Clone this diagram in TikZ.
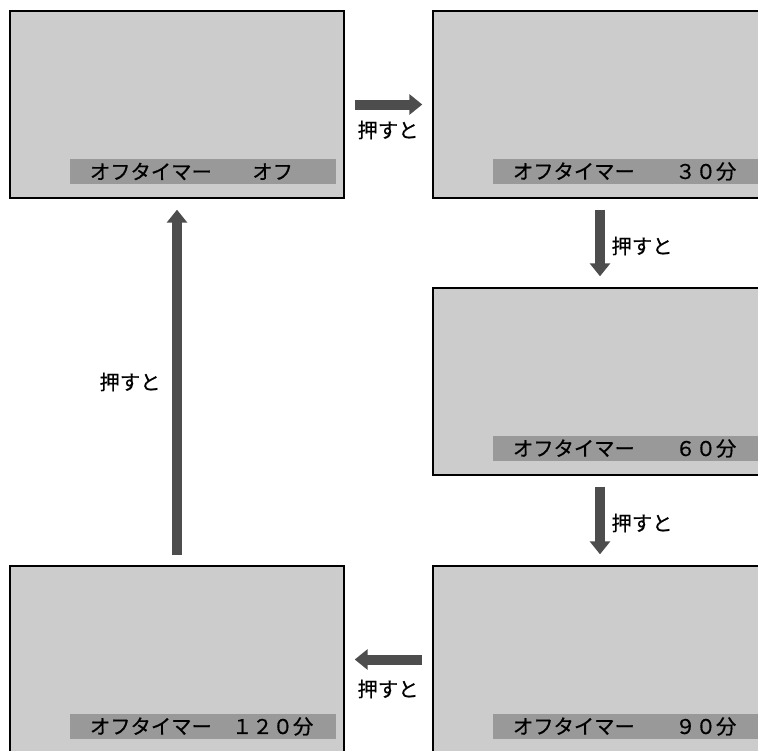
\documentclass[tikz,border=0pt]{standalone}
\usepackage{fontspec}
\setmainfont{Noto Sans CJK JP}
\newfontfamily\jpfont{Noto Sans CJK JP}[FakeBold=0.6]
\usetikzlibrary{arrows.meta}
\definecolor{scrfill}{HTML}{CCCCCC}
\definecolor{barfill}{HTML}{999999}
\definecolor{arrowgray}{HTML}{4D4D4D}
\begin{document}
\begin{tikzpicture}[x=1pt,y=-1pt,
  screen/.style={draw=black,line width=1.4pt,fill=scrfill,minimum width=334pt,minimum height=187pt,inner sep=0pt},
  bar/.style={fill=barfill,minimum width=266pt,minimum height=25pt,inner sep=0pt},
  bartext/.style={anchor=west,inner sep=0pt,font=\jpfont\fontsize{20.3}{24}\selectfont},
  push/.style={inner sep=0pt,font=\jpfont\fontsize{20.3}{24}\selectfont},
  bigarrow/.style={draw=arrowgray,line width=10pt,-{Triangle[length=13pt,width=20pt]}}]
\clip (0,0) rectangle (758,750);
% screens
\node[screen] (tl) at (177,104.5) {};
\node[screen] (tr) at (600,104.5) {};
\node[screen] (mr) at (600,381.5) {};
\node[screen] (br) at (600,659.5) {};
\node[screen] (bl) at (177,659.5) {};
% bars
\node[bar] (tlbar) at ([shift={(26,67)}]tl.center) {};
\node[bar] (trbar) at ([shift={(26,67)}]tr.center) {};
\node[bar] (mrbar) at ([shift={(26,67)}]mr.center) {};
\node[bar] (brbar) at ([shift={(26,67)}]br.center) {};
\node[bar] (blbar) at ([shift={(26,67)}]bl.center) {};
% bar texts
\node[bartext] (tlt) at ([xshift=20pt]tlbar.west) {オフタイマー\hspace{2em}オフ};
\node[bartext] (trt) at ([xshift=20pt]trbar.west) {オフタイマー\hspace{2em}３０分};
\node[bartext] (mrt) at ([xshift=20pt]mrbar.west) {オフタイマー\hspace{2em}６０分};
\node[bartext] (brt) at ([xshift=20pt]brbar.west) {オフタイマー\hspace{2em}９０分};
\node[bartext] (blt) at ([xshift=20pt]blbar.west) {オフタイマー\hspace{1em}１２０分};
% arrows
\draw[bigarrow] ([xshift=10pt]tl.east) -- ([xshift=-10pt]tr.west);
\draw[bigarrow] ([yshift=-11pt]tr.south) -- ([yshift=11pt]mr.north);
\draw[bigarrow] ([yshift=-11pt]mr.south) -- ([yshift=11pt]br.north);
\draw[bigarrow] ([xshift=-10pt]br.west) -- ([xshift=10pt]bl.east);
\draw[bigarrow] ([yshift=10pt]bl.north) -- ([yshift=-11pt]tl.south);
% labels
\node[push] (l1) at (388,130) {押すと};
\node[push] (l2) at (642,246) {押すと};
\node[push] (l3) at (642,523) {押すと};
\node[push] (l4) at (388,689) {押すと};
\node[push] (l5) at (130,382) {押すと};
\end{tikzpicture}
\end{document}
